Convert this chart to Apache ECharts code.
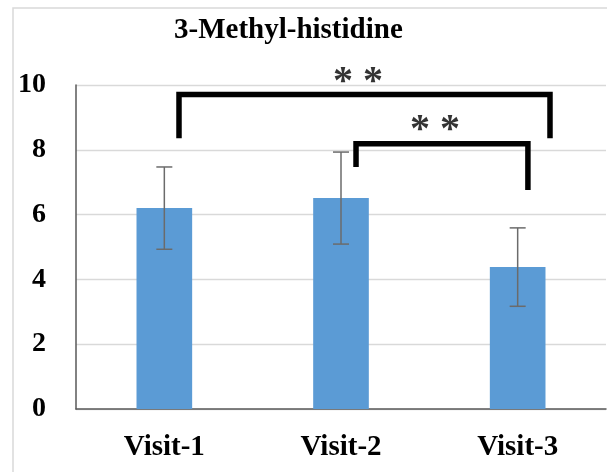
<!DOCTYPE html>
<html>
<head>
<meta charset="utf-8">
<script src="https://cdn.jsdelivr.net/npm/echarts@6/dist/echarts.min.js"></script>
<style>
  html, body { margin: 0; padding: 0; background: #fff; }
  #chart { width: 607px; height: 472px; }
</style>
</head>
<body>
<div id="chart"></div>
<script>
// Categories and measured values (mean ± SD)
const visits = ['Visit-1', 'Visit-2', 'Visit-3'];
const means = [6.20, 6.51, 4.38];
const sd = [1.27, 1.42, 1.21];
const yTicks = { min: 0, max: 10, step: 2 };

// Significance brackets, in position units along the category band (0..3)
const bracketWide = [[0.583, 8.36], [0.583, 9.71], [2.683, 9.71], [2.683, 8.36]];
const bracketNarrow = [[1.585, 7.47], [1.585, 8.19], [2.558, 8.19], [2.558, 6.76]];
const starMarks = [[1.596, 10.38, '* *'], [2.032, 8.90, '* *']];

const serif = '"Liberation Serif", "Times New Roman", serif';
const chart = echarts.init(document.getElementById('chart'), null, { renderer: 'canvas' });

const errorData = visits.map((v, i) => [i, means[i] - sd[i], means[i] + sd[i]]);

const option = {
  animation: false,
  backgroundColor: '#fff',
  title: {
    text: '3-Methyl-histidine',
    left: 169,
    top: 11,
    textStyle: { fontFamily: serif, fontWeight: 'bold', fontSize: 29, color: '#000' }
  },
  graphic: [{
    type: 'rect',
    shape: { x: 13, y: 8, width: 640, height: 500 },
    style: { fill: 'none', stroke: '#d9d9d9', lineWidth: 1.5 },
    silent: true,
    z: -10
  }],
  grid: { left: 76, right: 1, top: 85, bottom: 63 },
  xAxis: [{
    type: 'category',
    data: visits,
    axisTick: { show: false },
    axisLine: { lineStyle: { color: '#595959', width: 1.5 } },
    axisLabel: { fontFamily: serif, fontWeight: 'bold', fontSize: 29, color: '#000', margin: 24 }
  }, {
    type: 'value',
    min: 0, max: 3,
    show: false
  }],
  yAxis: {
    type: 'value',
    min: yTicks.min, max: yTicks.max, interval: yTicks.step,
    axisLine: { show: true, lineStyle: { color: '#595959', width: 1.5 } },
    axisTick: { show: false },
    splitLine: { lineStyle: { color: '#d9d9d9', width: 1.3 } },
    axisLabel: { fontFamily: serif, fontWeight: 'bold', fontSize: 28, color: '#000', margin: 30 }
  },
  series: [{
    type: 'bar',
    data: means,
    barWidth: '31.5%',
    itemStyle: { color: '#5B9BD5' }
  }, {
    type: 'custom',
    data: errorData,
    z: 5,
    renderItem: function (params, api) {
      const x = api.value(0);
      const lo = api.coord([x, api.value(1)]);
      const hi = api.coord([x, api.value(2)]);
      const cap = 8;
      const style = { stroke: '#6b6b6b', lineWidth: 1.5 };
      return {
        type: 'group',
        children: [
          { type: 'line', shape: { x1: hi[0], y1: hi[1], x2: lo[0], y2: lo[1] }, style: style },
          { type: 'line', shape: { x1: hi[0] - cap, y1: hi[1], x2: hi[0] + cap, y2: hi[1] }, style: style },
          { type: 'line', shape: { x1: lo[0] - cap, y1: lo[1], x2: lo[0] + cap, y2: lo[1] }, style: style }
        ]
      };
    }
  }, {
    type: 'line',
    xAxisIndex: 1,
    data: bracketWide,
    symbol: 'none',
    clip: false,
    lineStyle: { color: '#000', width: 5.5, join: 'miter', cap: 'butt' },
    z: 6
  }, {
    type: 'line',
    xAxisIndex: 1,
    data: bracketNarrow,
    symbol: 'none',
    clip: false,
    lineStyle: { color: '#000', width: 5.5, join: 'miter', cap: 'butt' },
    z: 6
  }, {
    type: 'scatter',
    xAxisIndex: 1,
    data: starMarks,
    symbolSize: 0,
    clip: false,
    z: 7,
    label: {
      show: true,
      position: 'inside',
      formatter: p => p.value[2],
      fontFamily: serif,
      fontWeight: 'bold',
      fontSize: 40,
      color: '#000',
      offset: [0, 10]
    }
  }]
};

chart.setOption(option);
</script>
</body>
</html>
